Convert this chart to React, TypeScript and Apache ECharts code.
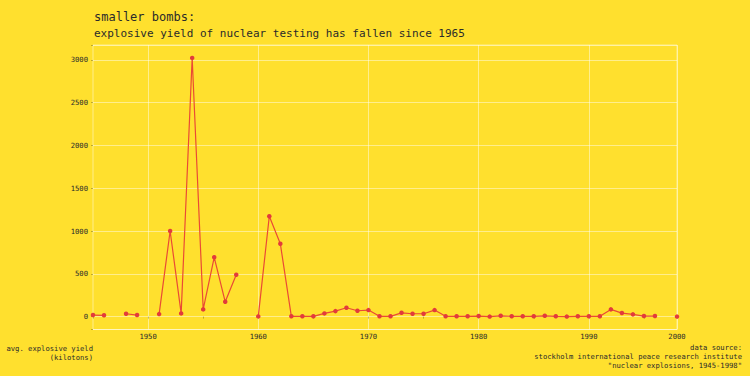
import React, { useEffect, useRef } from "react";
import * as echarts from "echarts";

// ---- data ----
const years = [
  1945, 1946, 1947, 1948, 1949, 1950, 1951, 1952, 1953, 1954,
  1955, 1956, 1957, 1958, 1959, 1960, 1961, 1962, 1963, 1964,
  1965, 1966, 1967, 1968, 1969, 1970, 1971, 1972, 1973, 1974,
  1975, 1976, 1977, 1978, 1979, 1980, 1981, 1982, 1983, 1984,
  1985, 1986, 1987, 1988, 1989, 1990, 1991, 1992, 1993, 1994,
  1995, 1996, 1997, 1998,
];
// average explosive yield (kilotons); null = no tests that year
const avgYield: (number | null)[] = [
  18, 15, null, 33, 18, null, 29, 1000, 37, 3023,
  84, 693, 173, 489, null, 2, 1173, 852, 3, 3,
  3, 37, 64, 103, 68, 76, 3, 3, 44, 33,
  33, 76, 3, 3, 3, 6, 0, 9, 3, 3,
  3, 9, 3, 0, 3, 3, 3, 84, 41, 26,
  6, 6, null, 0,
];
const yTickStep = 500;
// tick label shown at the right end of the time axis in the source chart
const xEndLabel = "2000";

const titleText = "smaller bombs:";
const subtitleText = "explosive yield of nuclear testing has fallen since 1965";
const yAxisNote = ["avg. explosive yield", "(kilotons)"];
const sourceNote = [
  "data source:",
  "stockholm international peace research institute",
  "\"nuclear explosions, 1945-1998\"",
];

const FONT = "'DejaVu Sans Mono', monospace";
const BG = "#FFE02E";
const GRID = "rgba(255,255,255,0.45)";
const INK = "#2a2a2a";

export default function App() {
  const ref = useRef<HTMLDivElement>(null);

  useEffect(() => {
    if (!ref.current) return;
    const chart = echarts.init(ref.current, undefined, { renderer: "svg" });

    const vals = avgYield.filter((v) => v !== null) as number[];
    const vMin = Math.min(...vals);
    const vMax = Math.max(...vals);
    const pad = (vMax - vMin) * 0.05;
    const xMin = years[0];
    const xMax = years[years.length - 1];

    const data = years.map((y, i) => [y, avgYield[i] === null ? "-" : avgYield[i]]);

    const small = { fontFamily: FONT, fontSize: 7.2, color: INK };

    chart.setOption({
      animation: false,
      backgroundColor: BG,
      grid: {
        left: 93,
        right: 73,
        top: 45,
        bottom: 46.5,
        show: true,
        borderColor: GRID,
        borderWidth: 1,
        backgroundColor: "transparent",
        containLabel: false,
      },
      xAxis: {
        type: "value",
        min: xMin,
        max: xMax,
        interval: 5,
        axisLine: { show: false },
        axisTick: { show: true, length: 2, lineStyle: { color: "rgba(0,0,0,0.25)" } },
        splitLine: {
          show: true,
          lineStyle: { color: ["rgba(255,255,255,0)", GRID], width: 1 },
        },
        axisLabel: {
          ...small,
          margin: 3,
          interval: 0,
          showMinLabel: true,
          showMaxLabel: true,
          formatter: (v: number) => {
            if (v === xMax) return xEndLabel;
            return v % 10 === 0 ? String(v) : "";
          },
        },
      },
      yAxis: {
        type: "value",
        min: Math.round(vMin - pad),
        max: Math.round(vMax + pad),
        splitNumber: 5,
        axisLine: { show: false },
        axisTick: { show: true, length: 2, lineStyle: { color: "rgba(0,0,0,0.25)" } },
        splitLine: { show: true, lineStyle: { color: GRID, width: 1 } },
        axisLabel: {
          ...small,
          margin: 5,
          showMinLabel: true,
          showMaxLabel: true,
          formatter: (v: number) => (v % yTickStep === 0 ? String(Math.abs(v) < 1e-9 ? 0 : v) : ""),
        },
      },
      series: [
        {
          type: "line",
          data,
          connectNulls: false,
          showSymbol: true,
          showAllSymbol: true,
          symbol: "circle",
          symbolSize: 4.5,
          lineStyle: { color: "#EA4A35", width: 1.2 },
          itemStyle: { color: "#E23B3B" },
          emphasis: { disabled: true },
        },
      ],
      graphic: [
        {
          type: "text",
          x: 94,
          y: 17,
          style: {
            text: titleText,
            fill: INK,
            font: `12px ${FONT}`,
            align: "left",
            verticalAlign: "middle",
            textAlign: "left",
            textVerticalAlign: "middle",
          },
        },
        {
          type: "text",
          x: 94,
          y: 33,
          style: {
            text: subtitleText,
            fill: INK,
            font: `11px ${FONT}`,
            align: "left",
            verticalAlign: "middle",
            textAlign: "left",
            textVerticalAlign: "middle",
          },
        },
        ...yAxisNote.map((t, i) => ({
          type: "text",
          x: 93,
          y: 348 + i * 9,
          style: {
            text: t,
            fill: INK,
            font: `7.2px ${FONT}`,
            align: "right",
            verticalAlign: "middle",
            textAlign: "right",
            textVerticalAlign: "middle",
          },
        })),
        ...sourceNote.map((t, i) => ({
          type: "text",
          x: 742,
          y: 347.5 + i * 9,
          style: {
            text: t,
            fill: INK,
            font: `7.2px ${FONT}`,
            align: "right",
            verticalAlign: "middle",
            textAlign: "right",
            textVerticalAlign: "middle",
          },
        })),
      ],
    });

    return () => chart.dispose();
  }, []);

  return (
    <div
      ref={ref}
      style={{ position: "fixed", left: 0, top: 0, width: 750, height: 376 }}
    />
  );
}
